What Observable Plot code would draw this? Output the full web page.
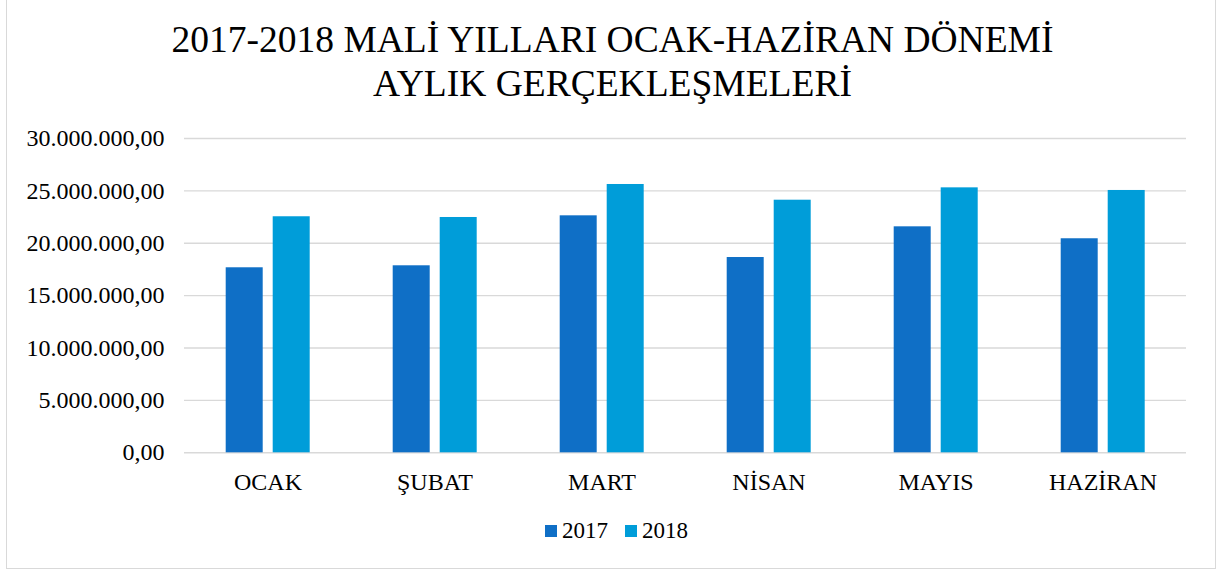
<!DOCTYPE html>
<html>
<head>
<meta charset="utf-8">
<script src="https://cdn.jsdelivr.net/npm/d3@7"></script>
<script src="https://cdn.jsdelivr.net/npm/@observablehq/plot@0.6"></script>
<style>
  html, body { margin: 0; padding: 0; background: #fff; }
  #wrap { position: relative; width: 1221px; height: 572px; overflow: hidden; font-family: "Liberation Serif", "Times New Roman", serif; color: #000; }
  #frame { position: absolute; left: 6px; top: -2px; width: 1210px; height: 571px; border: 1.5px solid #d9d9d9; box-sizing: border-box; }
  #title { position: absolute; left: 0; top: 18px; width: 1225px; text-align: center; font-size: 37.5px; line-height: 44px; }
  #chart { position: absolute; left: 0; top: 120px; }
  #chart svg text { font-size: 24px; }
  #legend { position: absolute; left: 0; top: 518px; width: 1233px; display: flex; justify-content: center; gap: 17px; font-size: 23px; }
  .item { display: flex; align-items: center; }
  .sw { width: 12px; height: 12px; margin-right: 5px; }
</style>
</head>
<body>
<div id="wrap">
  <div id="frame"></div>
  <div id="title">2017-2018 MALİ YILLARI OCAK-HAZİRAN DÖNEMİ<br>AYLIK GERÇEKLEŞMELERİ</div>
  <div id="chart"></div>
  <div id="legend"></div>
</div>
<script>
const months = ["OCAK", "ŞUBAT", "MART", "NİSAN", "MAYIS", "HAZİRAN"];
const series = ["2017", "2018"];
const values2017 = [17660000, 17850000, 22620000, 18640000, 21570000, 20430000];
const values2018 = [22530000, 22460000, 25610000, 24110000, 25290000, 25040000];
const yTicks = [0, 5000000, 10000000, 15000000, 20000000, 25000000, 30000000];
const colors = ["#0F6FC6", "#009DD9"];

const rows = [];
months.forEach((m, i) => {
  rows.push({month: m, year: "2017", value: values2017[i]});
  rows.push({month: m, year: "2018", value: values2018[i]});
});

const locale = d3.formatLocale({decimal: ",", thousands: ".", grouping: [3], currency: ["", ""]});
const fmt = locale.format(",.2f");

const chart = Plot.plot({
  width: 1221,
  height: 380,
  marginLeft: 183.3,
  marginRight: 33.7,
  marginTop: 18,
  marginBottom: 47.7,
  style: {fontFamily: "Liberation Serif, Times New Roman, serif", fontSize: "24px", color: "#000", background: "transparent"},
  facet: {data: rows, x: "month"},
  fx: {domain: months, padding: 0, tickSize: 0, tickPadding: 20, label: null},
  x: {domain: series, paddingInner: 0.218, paddingOuter: 0.86, axis: null},
  y: {domain: [0, 30000000], ticks: yTicks, tickFormat: fmt, tickSize: 0, tickPadding: 20, label: null},
  color: {domain: series, range: colors},
  marks: [
    Plot.ruleY(yTicks, {stroke: "#d9d9d9", strokeWidth: 1.4}),
    Plot.barY(rows, {x: "year", y: "value", fill: "year"})
  ]
});
document.getElementById("chart").appendChild(chart);

const legend = document.getElementById("legend");
series.forEach((s, i) => {
  const item = document.createElement("div");
  item.className = "item";
  const sw = document.createElement("div");
  sw.className = "sw";
  sw.style.background = colors[i];
  const t = document.createElement("span");
  t.textContent = s;
  item.appendChild(sw);
  item.appendChild(t);
  legend.appendChild(item);
});
</script>
</body>
</html>
